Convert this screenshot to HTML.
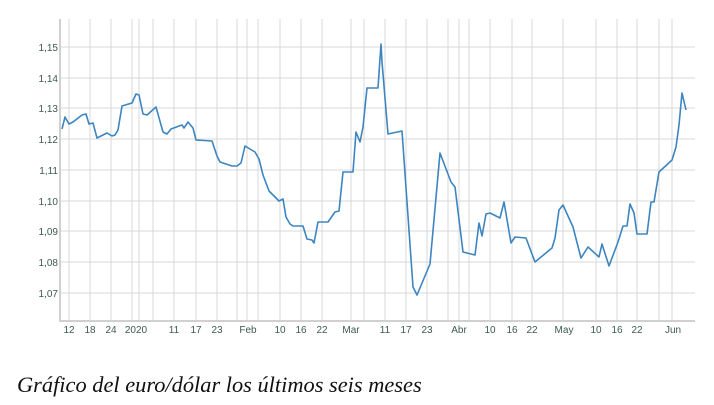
<!DOCTYPE html>
<html><head><meta charset="utf-8"><style>
body{margin:0;background:#fff;width:714px;height:405px;overflow:hidden}
svg text{font-family:"Liberation Sans",sans-serif;font-size:10px;fill:#3d5a4c}
.cap{position:absolute;left:17px;top:372px;font-family:"Liberation Serif",serif;font-style:italic;font-size:22.4px;color:#111;white-space:nowrap}
</style></head><body>
<svg width="714" height="405" style="position:absolute;left:0;top:0">
<g stroke="#d9d9d9" stroke-width="1">
<line x1="60" x2="695" y1="47" y2="47"/><line x1="60" x2="695" y1="78" y2="78"/><line x1="60" x2="695" y1="108" y2="108"/><line x1="60" x2="695" y1="139" y2="139"/><line x1="60" x2="695" y1="170" y2="170"/><line x1="60" x2="695" y1="201" y2="201"/><line x1="60" x2="695" y1="231" y2="231"/><line x1="60" x2="695" y1="262" y2="262"/><line x1="60" x2="695" y1="293" y2="293"/>
<g id="v">
<line x1="69" x2="69" y1="19" y2="322"/><line x1="90" x2="90" y1="19" y2="322"/><line x1="111" x2="111" y1="19" y2="322"/><line x1="132" x2="132" y1="19" y2="322"/><line x1="139" x2="139" y1="19" y2="322"/><line x1="153" x2="153" y1="19" y2="322"/><line x1="174" x2="174" y1="19" y2="322"/><line x1="196" x2="196" y1="19" y2="322"/><line x1="217" x2="217" y1="19" y2="322"/><line x1="237" x2="237" y1="19" y2="322"/><line x1="247" x2="247" y1="19" y2="322"/><line x1="258" x2="258" y1="19" y2="322"/><line x1="280" x2="280" y1="19" y2="322"/><line x1="301" x2="301" y1="19" y2="322"/><line x1="322" x2="322" y1="19" y2="322"/><line x1="351" x2="351" y1="19" y2="322"/><line x1="364" x2="364" y1="19" y2="322"/><line x1="385" x2="385" y1="19" y2="322"/><line x1="406" x2="406" y1="19" y2="322"/><line x1="427" x2="427" y1="19" y2="322"/><line x1="448" x2="448" y1="19" y2="322"/><line x1="459" x2="459" y1="19" y2="322"/><line x1="469" x2="469" y1="19" y2="322"/><line x1="490" x2="490" y1="19" y2="322"/><line x1="512" x2="512" y1="19" y2="322"/><line x1="532" x2="532" y1="19" y2="322"/><line x1="563" x2="563" y1="19" y2="322"/><line x1="596" x2="596" y1="19" y2="322"/><line x1="617" x2="617" y1="19" y2="322"/><line x1="637" x2="637" y1="19" y2="322"/><line x1="659" x2="659" y1="19" y2="322"/><line x1="672" x2="672" y1="19" y2="322"/>
</g></g>
<line x1="60" x2="60" y1="19" y2="322" stroke="#d0d0d0" stroke-width="2"/>
<line x1="60" x2="695" y1="321" y2="321" stroke="#d0d0d0" stroke-width="2"/>
<g text-anchor="end">
<text x="58" y="51">1,15</text><text x="58" y="82">1,14</text><text x="58" y="112">1,13</text><text x="58" y="143">1,12</text><text x="58" y="174">1,11</text><text x="58" y="205">1,10</text><text x="58" y="235">1,09</text><text x="58" y="266">1,08</text><text x="58" y="297">1,07</text>
</g>
<g text-anchor="middle">
<text x="69" y="333">12</text><text x="90" y="333">18</text><text x="111" y="333">24</text><text x="136" y="333">2020</text><text x="174" y="333">11</text><text x="196" y="333">17</text><text x="217" y="333">23</text><text x="248" y="333">Feb</text><text x="280" y="333">10</text><text x="301" y="333">16</text><text x="322" y="333">22</text><text x="351" y="333">Mar</text><text x="385" y="333">11</text><text x="406" y="333">17</text><text x="427" y="333">23</text><text x="459" y="333">Abr</text><text x="490" y="333">10</text><text x="512" y="333">16</text><text x="532" y="333">22</text><text x="564" y="333">May</text><text x="596" y="333">10</text><text x="617" y="333">16</text><text x="637" y="333">22</text><text x="673" y="333">Jun</text>
</g>
<polyline fill="none" stroke="#3d85c0" stroke-width="1.6" stroke-linejoin="round" points="62,129 65,117 69,124 73,122 82,115 86,114 89,124 93,123 97,138 107,133 112,136 115,135 118,130 122,106 132,103 136,94 139,95 143,114 147,115 156,107 163,132 167,134 171,129 182,125 184,128 188,122 193,128 196,140 212,141 217,156 220,162 232,166 237,166 241,163 245,146 255,152 259,159 263,175 269,191 279,201 283,199 286,217 290,224 293,226 303,226 307,239 312,240 314,243 318,222 328,222 335,212 339,211 343,172 353,172 356,132 360,142 363,127 367,88 378,88 381,44 382,62 388,134 402,131 413,287 417,295 430,264 440,153 451,182 455,187 463,252 475,255 479,223 482,236 486,214 490,213 500,218 504,202 511,243 515,237 526,238 535,262 552,248 555,238 559,210 563,205 573,227 581,258 588,247 599,257 602,244 609,266 618,242 623,226 627,226 630,204 634,213 637,234 647,234 651,202 654,202 659,172 672,160 676,147 679,125 682,93 686,110"/>
</svg>
<div class="cap">Gráfico del euro/dólar los últimos seis meses</div>
</body></html>
